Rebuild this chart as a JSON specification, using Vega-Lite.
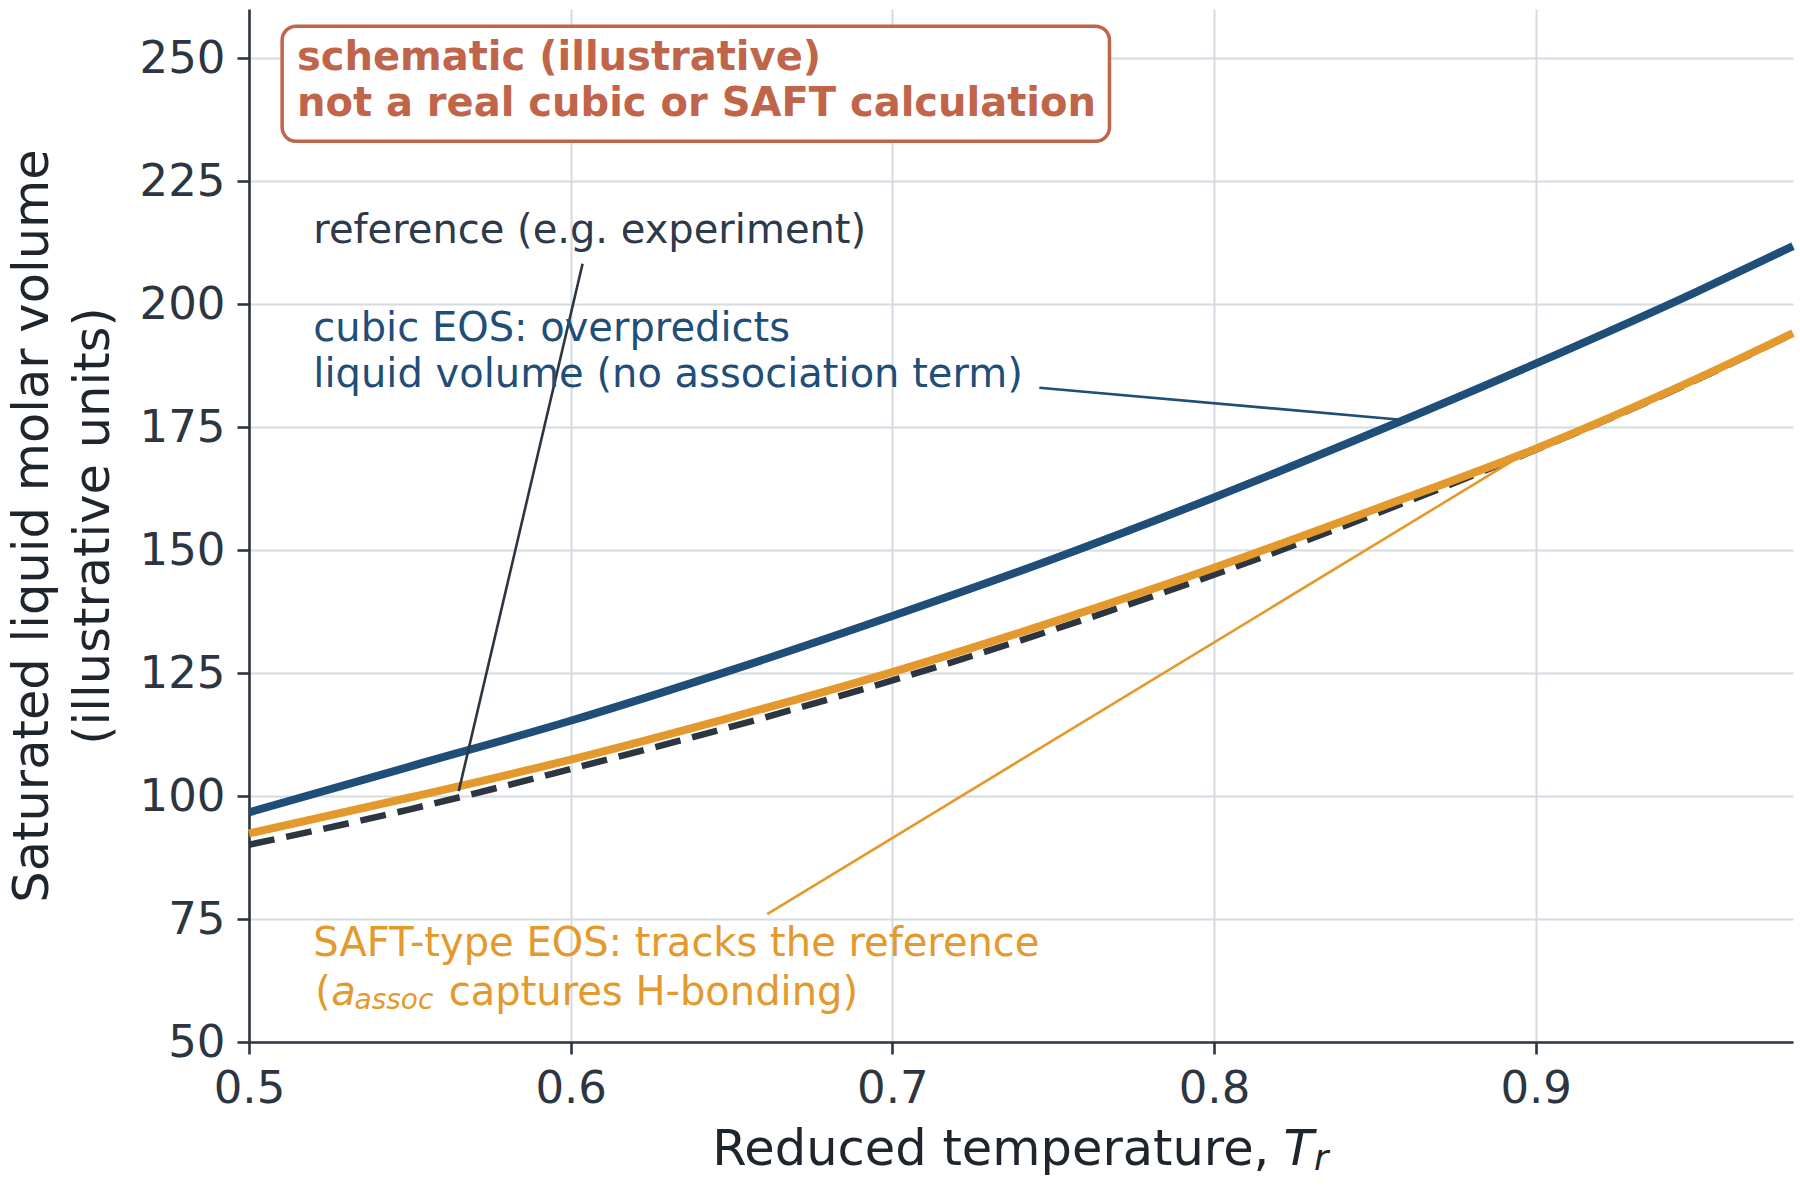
{
  "$schema": "https://vega.github.io/schema/vega-lite/v6.json",
  "width": 1544,
  "height": 1033,
  "autosize": "none",
  "padding": {"left": 249, "top": 9, "right": 7, "bottom": 146},
  "background": "white",
  "config": {
    "font": "DejaVu Sans",
    "view": {"stroke": null},
    "axis": {
      "domainColor": "#2c3540",
      "domainWidth": 2.6,
      "tickColor": "#2c3540",
      "tickWidth": 2.6,
      "tickSize": 12,
      "labelFont": "DejaVu Sans",
      "labelFontSize": 45,
      "labelColor": "#2c3540",
      "labelPadding": 12,
      "labelFlush": false,
      "gridColor": "#d5dbe0",
      "gridWidth": 2,
      "titleFont": "DejaVu Sans",
      "titleFontSize": 49.5,
      "titleFontWeight": "normal",
      "titleColor": "#1f252d"
    }
  },
  "datasets": {
    "curves": [
      {"T": 0.50, "V": 90.1, "s": "reference"},
      {"T": 0.55, "V": 97.3, "s": "reference"},
      {"T": 0.60, "V": 105.5, "s": "reference"},
      {"T": 0.65, "V": 114.1, "s": "reference"},
      {"T": 0.70, "V": 123.5, "s": "reference"},
      {"T": 0.75, "V": 133.8, "s": "reference"},
      {"T": 0.80, "V": 145.0, "s": "reference"},
      {"T": 0.85, "V": 157.3, "s": "reference"},
      {"T": 0.90, "V": 170.4, "s": "reference"},
      {"T": 0.95, "V": 184.6, "s": "reference"},
      {"T": 0.98, "V": 194.0, "s": "reference"},
      {"T": 0.50, "V": 96.7, "s": "cubic"},
      {"T": 0.55, "V": 106.0, "s": "cubic"},
      {"T": 0.60, "V": 115.3, "s": "cubic"},
      {"T": 0.65, "V": 125.6, "s": "cubic"},
      {"T": 0.70, "V": 136.6, "s": "cubic"},
      {"T": 0.75, "V": 148.2, "s": "cubic"},
      {"T": 0.80, "V": 160.7, "s": "cubic"},
      {"T": 0.85, "V": 174.0, "s": "cubic"},
      {"T": 0.90, "V": 187.9, "s": "cubic"},
      {"T": 0.95, "V": 202.5, "s": "cubic"},
      {"T": 0.98, "V": 211.8, "s": "cubic"},
      {"T": 0.50, "V": 92.4, "s": "saft"},
      {"T": 0.55, "V": 99.7, "s": "saft"},
      {"T": 0.60, "V": 107.4, "s": "saft"},
      {"T": 0.65, "V": 116.0, "s": "saft"},
      {"T": 0.70, "V": 125.2, "s": "saft"},
      {"T": 0.75, "V": 135.4, "s": "saft"},
      {"T": 0.80, "V": 146.4, "s": "saft"},
      {"T": 0.85, "V": 158.3, "s": "saft"},
      {"T": 0.90, "V": 170.6, "s": "saft"},
      {"T": 0.95, "V": 184.8, "s": "saft"},
      {"T": 0.98, "V": 194.1, "s": "saft"}
    ],
    "arrows": [
      {"T": 0.6037, "V": 208.2, "T2": 0.5652, "V2": 101.0, "s": "reference"},
      {"T": 0.7457, "V": 183.0, "T2": 0.8581, "V2": 176.5, "s": "cubic"},
      {"T": 0.6611, "V": 76.0, "T2": 0.8955, "V2": 169.2, "s": "saft"}
    ],
    "box": [
      {"T": 0.5103, "V": 256.5, "T2": 0.7675, "V2": 233.1}
    ],
    "notes": [
      {"T": 0.5149, "V": 250.0, "label": "schematic (illustrative)", "s": "box"},
      {"T": 0.5149, "V": 240.7, "label": "not a real cubic or SAFT calculation", "s": "box"},
      {"T": 0.52, "V": 214.9, "label": "reference (e.g. experiment)", "s": "reference"},
      {"T": 0.52, "V": 195.0, "label": "cubic EOS: overpredicts", "s": "cubic"},
      {"T": 0.52, "V": 185.6, "label": "liquid volume (no association term)", "s": "cubic"},
      {"T": 0.52, "V": 70.0, "label": "SAFT-type EOS: tracks the reference", "s": "saft"},
      {"T": 0.5206, "V": 60.0, "label": "(", "s": "saft"},
      {"T": 0.5256, "V": 60.0, "label": "a", "s": "saft_it"},
      {"T": 0.5328, "V": 60.0, "label": "assoc", "s": "saft_sub"},
      {"T": 0.5621, "V": 60.0, "label": "captures H-bonding)", "s": "saft"},
      {"T": 0.644, "V": 28.0, "label": "Reduced temperature,", "s": "xtitle"},
      {"T": 0.8216, "V": 28.0, "label": "T", "s": "xtitle_it"},
      {"T": 0.8311, "V": 28.0, "label": "r", "s": "xtitle_sub"}
    ]
  },
  "encoding": {
    "x": {
      "field": "T",
      "type": "quantitative",
      "scale": {"domain": [0.5, 0.98], "nice": false, "zero": false},
      "axis": {"values": [0.5, 0.6, 0.7, 0.8, 0.9], "format": ".1f", "title": null, "grid": true}
    },
    "y": {
      "field": "V",
      "type": "quantitative",
      "scale": {"domain": [50, 260], "nice": false, "zero": false},
      "axis": {
        "values": [50, 75, 100, 125, 150, 175, 200, 225, 250],
        "title": ["Saturated liquid molar volume", "(illustrative units)"],
        "titleLineHeight": 61,
        "titlePadding": 21,
        "grid": true
      }
    }
  },
  "layer": [
    {
      "data": {"name": "curves"},
      "transform": [{"filter": "datum.s === 'reference'"}],
      "mark": {"type": "line", "color": "#2c3540", "strokeWidth": 6.5, "strokeDash": [26, 12], "interpolate": "monotone"}
    },
    {
      "data": {"name": "curves"},
      "transform": [{"filter": "datum.s === 'cubic'"}],
      "mark": {"type": "line", "color": "#1f4e79", "strokeWidth": 8, "interpolate": "monotone"}
    },
    {
      "data": {"name": "curves"},
      "transform": [{"filter": "datum.s === 'saft'"}],
      "mark": {"type": "line", "color": "#e3992c", "strokeWidth": 8, "interpolate": "monotone"}
    },
    {
      "data": {"name": "arrows"},
      "mark": {"type": "rule", "strokeWidth": 2.6},
      "encoding": {
        "x2": {"field": "T2"},
        "y2": {"field": "V2"},
        "color": {
          "field": "s",
          "type": "nominal",
          "scale": {"domain": ["reference", "cubic", "saft"], "range": ["#2c3540", "#1f4e79", "#e3992c"]},
          "legend": null
        }
      }
    },
    {
      "data": {"name": "box"},
      "mark": {"type": "rect", "fill": "white", "stroke": "#c0644a", "strokeWidth": 3.5, "cornerRadius": 14},
      "encoding": {"x2": {"field": "T2"}, "y2": {"field": "V2"}}
    },
    {
      "data": {"name": "notes"},
      "transform": [{"filter": "datum.s === 'box'"}],
      "mark": {"type": "text", "align": "left", "baseline": "middle", "fontSize": 40, "fontWeight": "bold", "color": "#c0644a"},
      "encoding": {"text": {"field": "label"}}
    },
    {
      "data": {"name": "notes"},
      "transform": [{"filter": "datum.s === 'reference'"}],
      "mark": {"type": "text", "align": "left", "baseline": "middle", "fontSize": 40, "color": "#2d3a4a"},
      "encoding": {"text": {"field": "label"}}
    },
    {
      "data": {"name": "notes"},
      "transform": [{"filter": "datum.s === 'cubic'"}],
      "mark": {"type": "text", "align": "left", "baseline": "middle", "fontSize": 40, "color": "#1f4e79"},
      "encoding": {"text": {"field": "label"}}
    },
    {
      "data": {"name": "notes"},
      "transform": [{"filter": "datum.s === 'saft'"}],
      "mark": {"type": "text", "align": "left", "baseline": "middle", "fontSize": 40, "color": "#e3992c"},
      "encoding": {"text": {"field": "label"}}
    },
    {
      "data": {"name": "notes"},
      "transform": [{"filter": "datum.s === 'saft_it'"}],
      "mark": {"type": "text", "align": "left", "baseline": "middle", "fontSize": 40, "fontStyle": "italic", "color": "#e3992c"},
      "encoding": {"text": {"field": "label"}}
    },
    {
      "data": {"name": "notes"},
      "transform": [{"filter": "datum.s === 'saft_sub'"}],
      "mark": {"type": "text", "align": "left", "baseline": "middle", "fontSize": 28, "fontStyle": "italic", "dy": 8, "color": "#e3992c"},
      "encoding": {"text": {"field": "label"}}
    },
    {
      "data": {"name": "notes"},
      "transform": [{"filter": "datum.s === 'xtitle'"}],
      "mark": {"type": "text", "align": "left", "baseline": "middle", "fontSize": 49.5, "color": "#1f252d"},
      "encoding": {"text": {"field": "label"}}
    },
    {
      "data": {"name": "notes"},
      "transform": [{"filter": "datum.s === 'xtitle_it'"}],
      "mark": {"type": "text", "align": "left", "baseline": "middle", "fontSize": 49.5, "fontStyle": "italic", "color": "#1f252d"},
      "encoding": {"text": {"field": "label"}}
    },
    {
      "data": {"name": "notes"},
      "transform": [{"filter": "datum.s === 'xtitle_sub'"}],
      "mark": {"type": "text", "align": "left", "baseline": "middle", "fontSize": 35, "fontStyle": "italic", "dy": 9, "color": "#1f252d"},
      "encoding": {"text": {"field": "label"}}
    }
  ]
}
